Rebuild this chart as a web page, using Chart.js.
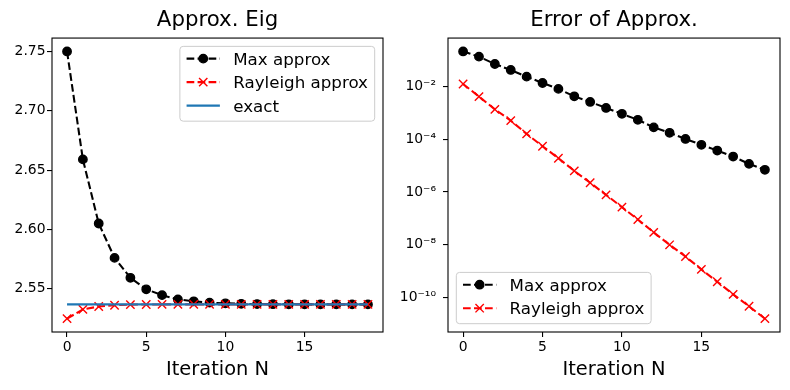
<!DOCTYPE html>
<html>
<head>
<meta charset="utf-8">
<script src="https://cdn.jsdelivr.net/npm/chart.js@4/dist/chart.umd.min.js"></script>
<style>
  html, body { margin: 0; padding: 0; background: #fff; }
  .panel { position: absolute; top: 0; width: 395px; height: 390px; }
  #p1 { left: 0; }
  #p2 { left: 395px; }
</style>
</head>
<body>
<div class="panel" id="p1"><canvas id="c1" width="395" height="390"></canvas></div>
<div class="panel" id="p2"><canvas id="c2" width="395" height="390"></canvas></div>
<script>
// ---------------- data ----------------
const iterations = [0,1,2,3,4,5,6,7,8,9,10,11,12,13,14,15,16,17,18,19];
const maxApprox = [2.7500, 2.6590, 2.6050, 2.5760, 2.5592, 2.5495, 2.5446, 2.5410, 2.5394, 2.5383,
                   2.5377, 2.5373, 2.5371, 2.5370, 2.5369, 2.5369, 2.5368, 2.5368, 2.5368, 2.5368];
const rayleighApprox = [2.5248, 2.5326, 2.5350, 2.5361, 2.5366, 2.5367, 2.5368, 2.5368, 2.5368, 2.5368,
                        2.5368, 2.5368, 2.5368, 2.5368, 2.5368, 2.5368, 2.5368, 2.5368, 2.5368, 2.5368];
const exactValues = [2.5368, 2.5368, 2.5368, 2.5368, 2.5368, 2.5368, 2.5368, 2.5368, 2.5368, 2.5368,
                     2.5368, 2.5368, 2.5368, 2.5368, 2.5368, 2.5368, 2.5368, 2.5368, 2.5368, 2.5368];
const maxError = [0.21, 0.133, 0.070, 0.0417, 0.0233, 0.0134, 0.0080, 0.0042, 0.00257, 0.00152,
                  0.00091, 0.00054, 0.00028, 0.000174, 0.000102, 6.1e-5, 3.7e-5, 2.2e-5, 1.16e-5, 6.9e-6];
const rayleighError = [0.0123, 0.0041, 0.00135, 5.05e-4, 1.58e-4, 5.4e-5, 1.9e-5, 6.3e-6, 2.23e-6, 7.8e-7,
                       2.66e-7, 9.1e-8, 2.95e-8, 1.0e-8, 3.6e-9, 1.17e-9, 4.0e-10, 1.33e-10, 4.7e-11, 1.6e-11];
const xTicks = [0, 5, 10, 15];
const leftYTicks = [2.55, 2.60, 2.65, 2.70, 2.75];
const rightYTicks = [1e-2, 1e-4, 1e-6, 1e-8, 1e-10];
const rightYTickLabels = ['10\u207B\u00B2', '10\u207B\u2074', '10\u207B\u2076', '10\u207B\u2078', '10\u207B\u00B9\u2070'];
const titles = ['Approx. Eig', 'Error of Approx.'];
const xLabel = 'Iteration N';

// ---------------- style ----------------
const FONT = '"DejaVu Sans", sans-serif';
const LW = 2.08;
const DASH = [7.7, 3.3];
const TICK_FS = 13.9, TITLE_FS = 21.3, XLAB_FS = 19.4, LEG_FS = 16.7;

function pts(ys) { return iterations.map((x, i) => ({x: x, y: ys[i]})); }

const maxStyle = { borderColor: '#000', backgroundColor: '#000', borderWidth: LW, borderDash: DASH,
  pointStyle: 'circle', pointRadius: 4.2, pointBorderWidth: 1.4, pointBackgroundColor: '#000', pointBorderColor: '#000' };
const rayStyle = { borderColor: '#ff0000', backgroundColor: '#ff0000', borderWidth: LW, borderDash: DASH,
  pointStyle: 'crossRot', pointRadius: 5.9, pointBorderWidth: 1.4, pointBackgroundColor: '#ff0000', pointBorderColor: '#ff0000' };
const exactStyle = { borderColor: '#1f77b4', backgroundColor: '#1f77b4', borderWidth: LW, borderDash: [],
  pointRadius: 0, pointBorderWidth: 0 };

// frame (all four spines)
const framePlugin = {
  id: 'frame',
  afterDraw(chart) {
    const {ctx, chartArea: a} = chart;
    ctx.save();
    ctx.strokeStyle = '#000';
    ctx.lineWidth = 1.1;
    ctx.setLineDash([]);
    ctx.strokeRect(a.left, a.top, a.right - a.left, a.bottom - a.top);
    ctx.restore();
  }
};

// matplotlib-like legend inside the axes
const legendPlugin = {
  id: 'mplLegend',
  afterDraw(chart, args, opts) {
    if (!opts || !opts.loc) return;
    const {ctx, chartArea: a} = chart;
    const dss = chart.data.datasets;
    const n = dss.length;
    const PAD = 6.7, HANDLE = 33.3, GAP = 13.3, TOP0 = 12.3, ROW = 23.5, BOT = 15.5, INSET = 8.3;
    ctx.save();
    ctx.font = LEG_FS + 'px ' + FONT;
    const maxW = Math.max(...dss.map(d => ctx.measureText(d.label).width));
    const w = PAD + HANDLE + GAP + maxW + PAD;
    const h = TOP0 + (n - 1) * ROW + BOT;
    let x0, y0;
    if (opts.loc === 'upper right') { x0 = a.right - INSET - w; y0 = a.top + INSET; }
    else { x0 = a.left + INSET; y0 = a.bottom - INSET - h; }
    const r = 3.3;
    ctx.beginPath();
    ctx.moveTo(x0 + r, y0);
    ctx.arcTo(x0 + w, y0, x0 + w, y0 + h, r);
    ctx.arcTo(x0 + w, y0 + h, x0, y0 + h, r);
    ctx.arcTo(x0, y0 + h, x0, y0, r);
    ctx.arcTo(x0, y0, x0 + w, y0, r);
    ctx.closePath();
    ctx.fillStyle = 'rgba(255,255,255,0.8)';
    ctx.fill();
    ctx.strokeStyle = '#cccccc';
    ctx.lineWidth = 1;
    ctx.stroke();
    dss.forEach((ds, k) => {
      const cy = y0 + TOP0 + k * ROW;
      const hx = x0 + PAD;
      ctx.save();
      ctx.strokeStyle = ds.borderColor;
      ctx.lineWidth = ds.borderWidth;
      ctx.setLineDash(ds.borderDash || []);
      ctx.beginPath();
      ctx.moveTo(hx, cy);
      ctx.lineTo(hx + HANDLE, cy);
      ctx.stroke();
      ctx.setLineDash([]);
      if (ds.pointRadius > 0) {
        ctx.fillStyle = ds.pointBackgroundColor;
        ctx.strokeStyle = ds.pointBorderColor;
        ctx.lineWidth = ds.pointBorderWidth;
        Chart.helpers.drawPoint(ctx, {pointStyle: ds.pointStyle, radius: ds.pointRadius,
          borderWidth: ds.pointBorderWidth, rotation: 0}, hx + HANDLE / 2, cy);
      }
      ctx.restore();
      ctx.fillStyle = '#000';
      ctx.textAlign = 'left';
      ctx.textBaseline = 'alphabetic';
      ctx.fillText(ds.label, hx + HANDLE + GAP, cy + 0.36 * LEG_FS);
    });
    ctx.restore();
  }
};

function xScale() {
  const span = iterations[iterations.length - 1] - iterations[0];
  return {
    type: 'linear',
    min: iterations[0] - 0.05 * span,
    max: iterations[iterations.length - 1] + 0.05 * span,
    afterBuildTicks: s => { s.ticks = xTicks.map(v => ({value: v})); },
    afterFit: s => { s.height = 58; },
    ticks: { color: '#000', font: {family: FONT, size: TICK_FS}, padding: 2, maxRotation: 0,
             callback: v => String(v) },
    grid: { display: true, drawOnChartArea: false, drawTicks: true, tickLength: 5, color: '#000', lineWidth: 1.1 },
    border: { display: false },
    title: { display: true, text: xLabel, color: '#000', font: {family: FONT, size: XLAB_FS},
             padding: {top: 0, bottom: 8.4} }
  };
}

function titleOpts(text) {
  return { display: true, text: text, color: '#000', fullSize: false,
           font: {family: FONT, size: TITLE_FS, weight: 'normal'},
           padding: {top: 8, bottom: 4.5} };
}

// ---------- left chart ----------
const allLeft = maxApprox.concat(rayleighApprox, exactValues);
const lMin = Math.min(...allLeft), lMax = Math.max(...allLeft);
const lPad = 0.05 * (lMax - lMin);

new Chart(document.getElementById('c1'), {
  type: 'line',
  data: {
    datasets: [
      Object.assign({label: 'Max approx', data: pts(maxApprox), order: 2}, maxStyle),
      Object.assign({label: 'Rayleigh approx', data: pts(rayleighApprox), order: 1}, rayStyle),
      Object.assign({label: 'exact', data: pts(exactValues), order: 0}, exactStyle)
    ]
  },
  options: {
    responsive: false, animation: false, devicePixelRatio: 1,
    layout: { padding: {left: 0, right: 12, top: 0, bottom: 0} },
    elements: { line: { tension: 0, fill: false } },
    scales: {
      x: xScale(),
      y: {
        type: 'linear', min: lMin - lPad, max: lMax + lPad,
        afterBuildTicks: s => { s.ticks = leftYTicks.map(v => ({value: v})); },
        afterFit: s => { s.width = 52; },
        ticks: { color: '#000', font: {family: FONT, size: TICK_FS}, padding: 1.5,
                 callback: v => Number(v).toFixed(2) },
        grid: { display: true, drawOnChartArea: false, drawTicks: true, tickLength: 5, color: '#000', lineWidth: 1.1 },
        border: { display: false }
      }
    },
    plugins: {
      legend: { display: false },
      tooltip: { enabled: false },
      title: titleOpts(titles[0]),
      mplLegend: { loc: 'upper right' }
    }
  },
  plugins: [framePlugin, legendPlugin]
});

// ---------- right chart ----------
const allRight = maxError.concat(rayleighError);
const rLogMin = Math.log10(Math.min(...allRight)), rLogMax = Math.log10(Math.max(...allRight));
const rPad = 0.05 * (rLogMax - rLogMin);

new Chart(document.getElementById('c2'), {
  type: 'line',
  data: {
    datasets: [
      Object.assign({label: 'Max approx', data: pts(maxError), order: 1}, maxStyle),
      Object.assign({label: 'Rayleigh approx', data: pts(rayleighError), order: 0}, rayStyle)
    ]
  },
  options: {
    responsive: false, animation: false, devicePixelRatio: 1,
    layout: { padding: {left: 0, right: 10, top: 0, bottom: 0} },
    elements: { line: { tension: 0, fill: false } },
    scales: {
      x: xScale(),
      y: {
        type: 'logarithmic', min: Math.pow(10, rLogMin - rPad), max: Math.pow(10, rLogMax + rPad),
        afterBuildTicks: s => { s.ticks = rightYTicks.map(v => ({value: v})); },
        afterFit: s => { s.width = 53; },
        ticks: { color: '#000', font: {family: FONT, size: TICK_FS}, padding: 7,
                 callback: v => { const i = rightYTicks.findIndex(t => Math.abs(Math.log10(t) - Math.log10(v)) < 1e-6); return i >= 0 ? rightYTickLabels[i] : ''; } },
        grid: { display: true, drawOnChartArea: false, drawTicks: true, tickLength: 5, color: '#000', lineWidth: 1.1 },
        border: { display: false }
      }
    },
    plugins: {
      legend: { display: false },
      tooltip: { enabled: false },
      title: titleOpts(titles[1]),
      mplLegend: { loc: 'lower left' }
    }
  },
  plugins: [framePlugin, legendPlugin]
});
</script>
</body>
</html>
